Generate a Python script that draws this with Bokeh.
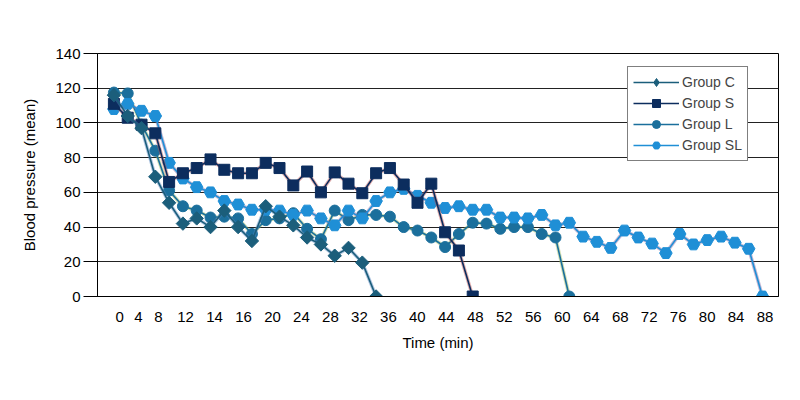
import math
from bokeh.plotting import figure
from bokeh.models import FixedTicker, Legend, LegendItem, Range1d
from bokeh.embed import file_html
from bokeh.resources import INLINE

# ---------------- data ----------------
x_labels = ["0", "4", "8", "12", "14", "16", "20", "24", "28", "32", "36", "40",
            "44", "48", "52", "56", "60", "64", "68", "72", "76", "80", "84", "88"]
y_ticks = [0, 20, 40, 60, 80, 100, 120, 140]

group_c = [116, 104, 97, 69, 54, 42, 45, 40, 49.5, 40, 32, 52, 46, 41, 34, 30,
           23.5, 28, 19.5, 0]
group_s = [111, 103, 99, 94, 66, 71, 74, 79, 73, 71, 71, 77, 74, 64, 72, 60,
           71.5, 65, 59.5, 71, 74, 64.5, 54, 65, 37, 26.5, 0]
group_l = [117.5, 117, 99, 84, 61, 52, 49.5, 45.5, 46, 45, 36, 44, 45, 48, 39,
           33, 49.5, 44, 47, 47, 46, 40, 38, 34, 28.5, 36, 42.5, 42, 39, 40, 40,
           36, 34, 0]
group_sl = [108, 111, 107, 104, 77, 68, 63, 60, 55, 53, 50, 50, 49.5, 47, 49.5,
            45, 41, 49.5, 45, 55, 60, 62, 58, 54, 51, 52, 50, 50, 45.5, 45.5, 45,
            47, 41, 42.5, 34.5, 31.5, 28, 38, 34, 30.5, 25, 36, 30, 32.5, 34.5,
            31, 27.5, 0]

series_names = ["Group C", "Group S", "Group L", "Group SL"]

FONT = "Liberation Sans"

p = figure(frame_width=681, frame_height=243,
           min_border_left=97, min_border_right=10,
           min_border_top=53, min_border_bottom=70,
           x_range=Range1d(-1.19, 48.16), y_range=Range1d(0, 140),
           output_backend="svg", toolbar_location=None)

p.background_fill_color = "white"
p.border_fill_color = "white"
p.outline_line_color = "black"
p.outline_line_width = 1

# ---------- axes ----------
p.yaxis.ticker = FixedTicker(ticks=y_ticks)
p.yaxis.major_tick_out = 14
p.yaxis.major_tick_in = 0
p.yaxis.minor_tick_line_color = None
p.yaxis.axis_line_color = "black"
p.yaxis.major_tick_line_color = "black"
p.yaxis.major_label_standoff = 3
p.yaxis.axis_label = "Blood pressure (mean)"
p.yaxis.axis_label_standoff = 14

tick_pos = [0.41, 1.78, 3.23] + [round(5.19 + 2.1 * k, 3) for k in range(len(x_labels) - 3)]
p.xaxis.ticker = FixedTicker(ticks=tick_pos)
p.xaxis.major_label_overrides = {t: lab for t, lab in zip(tick_pos, x_labels)}
p.xaxis.major_tick_out = 0
p.xaxis.major_tick_in = 0
p.xaxis.minor_tick_line_color = None
p.xaxis.axis_line_color = "black"
p.xaxis.major_label_standoff = 15
p.xaxis.axis_label = "Time (min)"
p.xaxis.axis_label_standoff = 9

for ax in (p.xaxis, p.yaxis):
    ax.major_label_text_font = FONT
    ax.major_label_text_font_size = "15px"
    ax.major_label_text_color = "black"
    ax.axis_label_text_font = FONT
    ax.axis_label_text_font_size = "15px"
    ax.axis_label_text_font_style = "normal"
    ax.axis_label_text_color = "black"

p.xgrid.grid_line_color = None
p.ygrid.grid_line_color = "#222222"
p.ygrid.grid_line_width = 1

# ---------- series ----------
styles = {
    "Group C": dict(col="#1b5e7b", halo="#4f81bd", marker="square", angle=math.pi / 4, size=9.5),
    "Group S": dict(col="#0c2d5e", halo="#c0504d", marker="square", angle=0, size=11),
    "Group L": dict(col="#1b6f9c", halo="#9bbb59", marker="circle", angle=0, size=11),
    "Group SL": dict(col="#1f8fd6", halo="#8064a2", marker="hex", angle=0, size=12.5),
}
data = {"Group C": group_c, "Group S": group_s, "Group L": group_l, "Group SL": group_sl}

items = {}
for name in ["Group L", "Group SL", "Group S", "Group C"]:
    st = styles[name]
    ys = data[name]
    xs = list(range(len(ys)))
    p.line(xs, ys, line_color=st["halo"], line_width=3.5, line_alpha=0.45)
    ln = p.line(xs, ys, line_color=st["col"], line_width=1.6)
    mk = p.scatter(xs, ys, marker=st["marker"], size=st["size"], angle=st["angle"],
                   fill_color=st["col"], line_color=st["col"], line_width=1)
    legend_rs = [ln, mk]
    if name == "Group C":
        # legend glyph: a diamond (rotation is not applied to legend glyphs);
        # hidden on the plot, only shown in the legend
        dm = p.scatter(xs, ys, marker="diamond", size=18,
                       fill_color=st["col"], line_color=st["col"], visible=False)
        legend_rs = [ln, dm]
    items[name] = LegendItem(label=name, renderers=legend_rs)

legend = Legend(items=[items[n] for n in series_names], location=(530, 135))
legend.click_policy = "none"
legend.border_line_color = "black"
legend.border_line_width = 1
legend.background_fill_color = "white"
legend.background_fill_alpha = 1
legend.padding = 5
legend.spacing = 1
legend.margin = 0
legend.glyph_width = 46
legend.glyph_height = 20
legend.label_standoff = 3
legend.label_text_font = FONT
legend.label_text_font_size = "14px"
legend.label_height = 20
p.add_layout(legend)

open("out.html", "w").write(file_html(p, INLINE))
